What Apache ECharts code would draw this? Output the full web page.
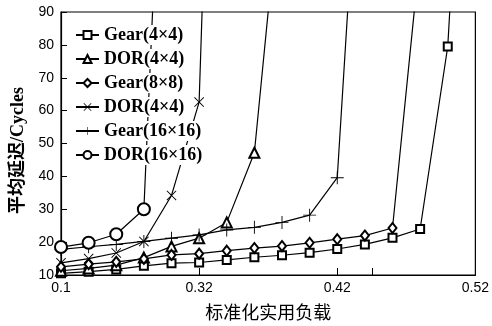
<!DOCTYPE html>
<html><head><meta charset="utf-8">
<script src="https://cdn.jsdelivr.net/npm/echarts@6/dist/echarts.min.js"></script>
<style>html,body{margin:0;padding:0;background:#fff}#c{width:492px;height:326px}</style>
</head><body><div id="c"></div>
<script>
// x positions (normalised load, axis units)
const loads = [0.22,0.24,0.26,0.28,0.30,0.32,0.34,0.36,0.38,0.40,0.42,0.44,0.46,0.48,0.50,0.52];
const xTickValues = [0.22,0.32,0.42,0.52];
const xTickLabels = ['0.1','0.32','0.42','0.52'];
const xExtraTicks = [0.32,0.42,0.445];
const yTicks = [10,20,30,40,50,60,70,80,90];

const gear4  = [10.5,11.0,11.7,12.8,13.6,13.8,14.6,15.4,16.0,16.8,17.9,19.3,21.3,24.0,79.5,227];
const dor4   = [11.3,12.0,13.0,15.3,18.7,21.2,26.0,47.2,133];
const gear8  = [12.5,13.3,14.0,14.9,16.1,16.5,17.4,18.2,18.8,19.8,20.9,22.0,24.3,108];
const dor4b  = [13.7,15.0,16.7,20.2,34.2,62.6,320];
const gear16 = [17.8,18.6,19.3,20.2,21.2,22.2,23.7,24.5,26.0,28.2,39.6,174];
const dor16  = [18.5,19.8,22.4,30.0,221];

const seriesKeys = ['g4','d4','g8','d4b','g16','d16'];
const seriesLabels = ['Gear(4×4)','DOR(4×4)','Gear(8×8)','DOR(4×4)','Gear(16×16)','DOR(16×16)'];
const seriesValues = [gear4,dor4,gear8,dor4b,gear16,dor16];

const crossPath = 'path://M0,1.3 L1.3,0 L10,8.7 L18.7,0 L20,1.3 L11.3,10 L20,18.7 L18.7,20 L10,11.3 L1.3,20 L0,18.7 L8.7,10 Z';
const plusPath = 'path://M9.3,0 L10.7,0 L10.7,9.3 L20,9.3 L20,10.7 L10.7,10.7 L10.7,20 L9.3,20 L9.3,10.7 L0,10.7 L0,9.3 L9.3,9.3 Z';
const symbols = ['emptyRect','emptyTriangle','emptyDiamond',crossPath,plusPath,'emptyCircle'];
const symSizes = [8,10,[8,10],10,13,12];

const chart = echarts.init(document.getElementById('c'), null, {renderer:'canvas'});
const series = seriesValues.map((vals,i)=>({
  name: seriesKeys[i],
  type: 'line',
  data: vals.map((v,j)=>[loads[j],v]),
  symbol: symbols[i],
  symbolSize: symSizes[i],
  showAllSymbol: true,
  clip: true,
  color: '#000',
  lineStyle: {color:'#000', width:1.2},
  itemStyle: (i===3||i===4) ? {color:'#000', borderWidth:0} : {color:'#000', borderWidth:1.1},
  emphasis: {disabled:true},
  animation: false
}));

chart.setOption({
  animation: false,
  backgroundColor: '#fff',
  grid: {left:61, right:9, top:12, bottom:49, show:true, borderColor:'#000', borderWidth:1.2, backgroundColor:'transparent'},
  legend: {
    orient:'vertical', left:71, top:22, padding:[3,0,3,4],
    itemWidth:23, itemHeight:10, itemGap:4,
    data: seriesKeys,
    formatter: n => seriesLabels[seriesKeys.indexOf(n)],
    textStyle:{fontFamily:'Liberation Serif', fontWeight:'bold', fontSize:18, lineHeight:18, color:'#000', backgroundColor:'#fff', padding:[1,0,1,0]},
    selectedMode:false
  },
  xAxis: {
    type:'value', min:0.22, max:0.52,
    name:'标准化实用负载', nameLocation:'middle', nameGap:28,
    nameTextStyle:{fontFamily:'Noto Sans CJK SC', fontSize:18, color:'#000'},
    axisLine:{lineStyle:{color:'#000', width:1.2}},
    axisTick:{inside:true, length:7, customValues:xExtraTicks, lineStyle:{color:'#000'}},
    axisLabel:{customValues:xTickValues, formatter:v=>{const k=xTickValues.findIndex(t=>Math.abs(t-v)<1e-6);return k>=0?xTickLabels[k]:'';}, fontFamily:'Liberation Sans', fontSize:14, color:'#000', margin:6},
    splitLine:{show:false}
  },
  yAxis: {
    type:'value', min:10, max:90, interval:10,
    name:'平均延迟/Cycles', nameLocation:'middle', nameGap:34,
    nameTextStyle:{fontFamily:'Liberation Serif, Noto Sans CJK SC', fontWeight:'bold', fontSize:18, color:'#000', padding:[0,14,0,0]},
    axisLine:{show:true, lineStyle:{color:'#000', width:1.2}},
    axisTick:{inside:true, length:6, lineStyle:{color:'#000'}},
    axisLabel:{formatter:v=>String(yTicks[yTicks.indexOf(v)]), fontFamily:'Liberation Sans', fontSize:14, color:'#000', margin:7},
    splitLine:{show:false}
  },
  series: series
});
</script></body></html>
